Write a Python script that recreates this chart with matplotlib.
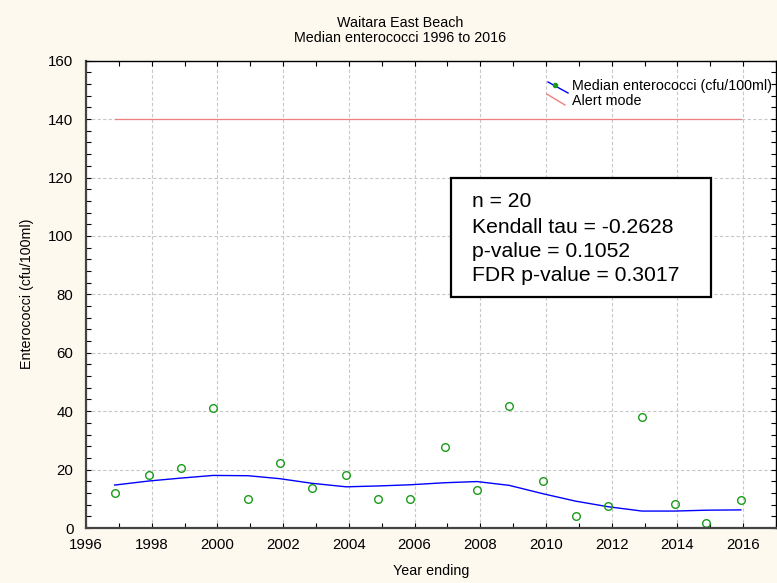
import matplotlib
matplotlib.use("Agg")
import matplotlib.pyplot as plt
from matplotlib.ticker import MultipleLocator, FixedLocator
from matplotlib.lines import Line2D
from matplotlib.patches import Rectangle

# ---- data ----
years = [1996.87, 1997.92, 1998.90, 1999.87, 2000.93, 2001.89, 2002.88, 2003.92,
         2004.90, 2005.87, 2006.92, 2007.90, 2008.88, 2009.92, 2010.90, 2011.88,
         2012.92, 2013.92, 2014.88, 2015.93]
median_entero = [12.0, 18.3, 20.7, 41.1, 9.8, 22.3, 13.7, 18.3, 9.8, 9.8,
                 27.7, 12.9, 41.8, 16.0, 4.2, 7.4, 37.9, 8.1, 1.7, 9.7]
smooth = [14.7, 16.1, 17.1, 18.0, 17.9, 16.9, 15.3, 14.1, 14.4, 14.8,
          15.5, 15.9, 14.6, 11.7, 9.2, 7.3, 5.8, 5.8, 6.1, 6.2]
alert_level = 140
x_ticks = [1996, 1998, 2000, 2002, 2004, 2006, 2008, 2010, 2012, 2014, 2016]
y_ticks = [0, 20, 40, 60, 80, 100, 120, 140, 160]
stats_lines = ["n = 20", "Kendall tau = -0.2628", "p-value = 0.1052", "FDR p-value = 0.3017"]
title_lines = ["Waitara East Beach", "Median enterococci 1996 to 2016"]
legend_labels = ["Median enterococci (cfu/100ml)", "Alert mode"]

plt.rcParams['font.family'] = ['Liberation Sans', 'DejaVu Sans']

bg = '#FDF9EE'
fig = plt.figure(figsize=(7.77, 5.83), dpi=100, facecolor=bg)
ax = fig.add_axes([86/777, 55/583, 690/777, 467.3/583])
ax.set_facecolor('white')

ax.set_xlim(1996, 2017)
ax.set_ylim(0, 160)
ax.xaxis.set_major_locator(FixedLocator(x_ticks))
ax.xaxis.set_minor_locator(MultipleLocator(1))
ax.yaxis.set_major_locator(FixedLocator(y_ticks))
ax.yaxis.set_minor_locator(MultipleLocator(4))
ax.grid(True, which='major', color='#C8C8C8', linestyle=(0, (3, 2)), linewidth=0.8)
ax.set_axisbelow(True)

ax.tick_params(which='both', direction='in', top=True, right=True, length=3.5,
               width=0.8, labelsize=10.8, colors='black')
ax.tick_params(axis='x', which='major', pad=7)
ax.tick_params(axis='y', which='major', pad=9)

for s in ['left', 'bottom']:
    ax.spines[s].set_color('#444444')
    ax.spines[s].set_linewidth(1.6)
for s in ['top', 'right']:
    ax.spines[s].set_color('black')
    ax.spines[s].set_linewidth(1.0)

# data
ax.plot([years[0], years[-1]], [alert_level, alert_level], color='#F08080', linewidth=0.9)
ax.plot(years, smooth, color='#0000FF', linewidth=1.0)
ax.plot(years, median_entero, linestyle='none', marker='o', markersize=5.5,
        markerfacecolor='none', markeredgecolor='#1A9A1A', markeredgewidth=1.0)

# legend (manual, no frame)
ax.add_line(Line2D([0.6696, 0.6986], [0.9544, 0.9309], transform=ax.transAxes,
                   color='#0000FF', linewidth=1.0))
ax.add_line(Line2D([0.6790], [0.9480], transform=ax.transAxes, marker='o',
                   markersize=3, color='#1A9A1A', linestyle='none'))
ax.add_line(Line2D([0.6677, 0.6942], [0.9287, 0.9052], transform=ax.transAxes,
                   color='#F08080', linewidth=1.0))
ax.text(0.7039, 0.9459, legend_labels[0], transform=ax.transAxes, fontsize=10.3,
        va='center', ha='left', clip_on=True)
ax.text(0.7039, 0.9144, legend_labels[1], transform=ax.transAxes, fontsize=10.3,
        va='center', ha='left', clip_on=True)

# stats box
ax.add_patch(Rectangle((0.5286, 0.4950), 0.9058 - 0.5286, 0.7483 - 0.4950,
                       transform=ax.transAxes, facecolor='white', edgecolor='black',
                       linewidth=1.6, zorder=5))
for yy, line in zip([0.6983, 0.6435, 0.5913, 0.5393], stats_lines):
    ax.text(0.559, yy, line, transform=ax.transAxes, fontsize=15.2,
            va='center', ha='left', zorder=6)

# titles / labels
fig.text(400/777, 1 - 23.3/583, title_lines[0], ha='center', va='center', fontsize=10.3)
fig.text(400/777, 1 - 38.3/583, title_lines[1], ha='center', va='center', fontsize=10.3)
fig.text(431/777, 1 - 571/583, "Year ending", ha='center', va='center', fontsize=10.3)
fig.text(27/777, 1 - 294/583, "Enterococci (cfu/100ml)", ha='center', va='center',
         fontsize=10.3, rotation=90)

fig.savefig("out.png", dpi=100, facecolor=bg)
